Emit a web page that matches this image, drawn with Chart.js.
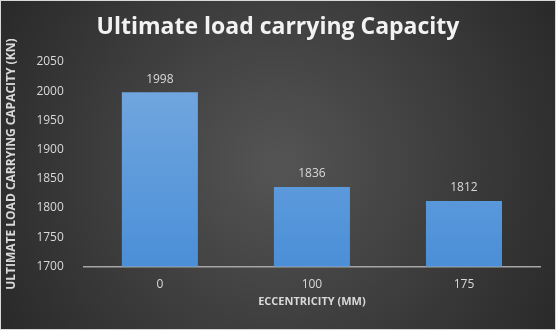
<!DOCTYPE html>
<html>
<head>
<meta charset="utf-8">
<script src="https://cdn.jsdelivr.net/npm/chart.js@4"></script>
<style>
  html, body { margin: 0; padding: 0; background: #333; }
  #wrap { width: 556px; height: 330px; }
</style>
</head>
<body>
<div id="wrap"><canvas id="chart" width="556" height="330"></canvas></div>
<script>
const categories = ['0', '100', '175'];
const capacity = [1998, 1836, 1812];
const yTicks = [1700, 1750, 1800, 1850, 1900, 1950, 2000, 2050];
const chartTitle = 'Ultimate load carrying Capacity';

// dark radial background like the office chart style, plus the centred title
const backgroundPlugin = {
    id: 'bg',
    beforeDraw(chart) {
        const ctx = chart.ctx;
        const w = chart.width, h = chart.height;
        const g = ctx.createRadialGradient(w / 2, h / 2, 10, w / 2, h / 2, w * 0.62);
        g.addColorStop(0, '#535353');
        g.addColorStop(1, '#262626');
        ctx.save();
        ctx.fillStyle = g;
        ctx.fillRect(0, 0, w, h);
        ctx.strokeStyle = '#d9d9d9';
        ctx.lineWidth = 1;
        ctx.strokeRect(0.5, 0.5, w - 1, h - 1);
        ctx.fillStyle = '#f2f2f2';
        ctx.font = 'bold 23px "Open Sans", sans-serif';
        ctx.textAlign = 'center';
        ctx.textBaseline = 'middle';
        ctx.fillText(chartTitle, w / 2, 27);
        ctx.restore();
    }
};

// value labels above the bars
const valueLabels = {
    id: 'valueLabels',
    afterDatasetsDraw(chart) {
        const ctx = chart.ctx;
        ctx.save();
        ctx.fillStyle = '#d9d9d9';
        ctx.font = '12px "Open Sans", sans-serif';
        ctx.textAlign = 'center';
        ctx.textBaseline = 'bottom';
        chart.getDatasetMeta(0).data.forEach((bar, i) => {
            ctx.fillText(chart.data.datasets[0].data[i], bar.x, bar.y - 7);
        });
        ctx.restore();
    }
};

const ctx = document.getElementById('chart').getContext('2d');
const barGradient = ctx.createLinearGradient(0, 90, 0, 266);
barGradient.addColorStop(0, '#70a6de');
barGradient.addColorStop(1, '#4b8fd8');

new Chart(ctx, {
    type: 'bar',
    data: {
        labels: categories,
        datasets: [{
            data: capacity,
            backgroundColor: barGradient,
            borderWidth: 0,
            barPercentage: 0.5,
            categoryPercentage: 1.0
        }]
    },
    options: {
        responsive: false,
        animation: false,
        layout: { padding: { top: 62, left: 4, right: 16, bottom: 22 } },
        plugins: {
            legend: { display: false },
            tooltip: { enabled: false },
            title: { display: false }
        },
        scales: {
            x: {
                grid: { display: false },
                border: { display: true, color: '#a6a6a6', width: 1.5 },
                ticks: { color: '#d9d9d9', font: { family: '"Open Sans", sans-serif', size: 12 }, padding: 3 },
                title: {
                    display: true,
                    text: 'ECCENTRICITY (MM)',
                    color: '#d9d9d9',
                    font: { family: '"Open Sans", sans-serif', size: 11, weight: 'bold' },
                    padding: { top: 0, bottom: 0 }
                }
            },
            y: {
                min: yTicks[0],
                max: yTicks[yTicks.length - 1],
                grid: { display: false },
                border: { display: false },
                afterBuildTicks(scale) {
                    scale.ticks = yTicks.map(v => ({ value: v }));
                },
                ticks: {
                    color: '#d9d9d9',
                    font: { family: '"Open Sans", sans-serif', size: 12 },
                    padding: 12,
                    callback: v => String(v)
                },
                title: {
                    display: true,
                    text: 'ULTIMATE LOAD CARRYING CAPACITY (KN)',
                    color: '#d9d9d9',
                    font: { family: '"Open Sans", sans-serif', size: 12, weight: 'bold' },
                    padding: { top: 0, bottom: 6 }
                }
            }
        }
    },
    plugins: [backgroundPlugin, valueLabels]
});
</script>
</body>
</html>
